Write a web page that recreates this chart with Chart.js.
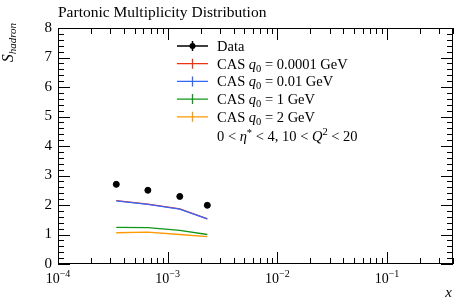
<!DOCTYPE html>
<html>
<head>
  <meta charset="utf-8">
  <title>Partonic Multiplicity Distribution</title>
  <script src="https://cdn.jsdelivr.net/npm/chart.js@4.4.1/dist/chart.umd.min.js"></script>
  <style>
    html, body { margin: 0; padding: 0; background: #fff; }
    #wrap { width: 468px; height: 304px; position: relative; }
  </style>
</head>
<body>
  <div id="wrap"><canvas id="myChart"></canvas></div>
  <script>
    // values
    const xBins = [3.4e-4, 6.6e-4, 1.29e-3, 2.3e-3];
    const dataVals = [2.70, 2.50, 2.29, 1.99];
    const cas00001 = [2.15, 2.03, 1.87, 1.53];
    const cas001 = [2.14, 2.02, 1.86, 1.53];
    const cas1 = [1.24, 1.23, 1.14, 1.00];
    const cas2 = [1.06, 1.08, 1.00, 0.93];
    const xDecades = [1e-4, 1e-3, 1e-2, 1e-1];
    const xExps = ['−4', '−3', '−2', '−1'];

    const FONT = '"Liberation Serif", "DejaVu Serif", serif';
    const RED = '#EE3311', BLUE = '#3366FF', GREEN = '#109618', ORANGE = '#FF9900';

    function pts(ys) { return xBins.map((x, i) => ({ x: x, y: ys[i] })); }

    // draw a run of text pieces [text, font, dy]
    function drawPieces(ctx, x, y, pieces) {
      pieces.forEach(p => {
        ctx.font = p[1];
        ctx.fillText(p[0], x, y + (p[2] || 0));
        x += ctx.measureText(p[0]).width;
      });
      return x;
    }
    function measurePieces(ctx, pieces) {
      let w = 0;
      pieces.forEach(p => { ctx.font = p[1]; w += ctx.measureText(p[0]).width; });
      return w;
    }

    const decor = {
      id: 'decor',
      afterDraw(chart) {
        const ctx = chart.ctx;
        const a = chart.chartArea;
        const xs = chart.scales.x, ys = chart.scales.y;
        ctx.save();
        ctx.strokeStyle = '#000';
        ctx.lineWidth = 1;
        // frame
        ctx.strokeRect(a.left + 0.5, a.top + 0.5, a.right - a.left - 1, a.bottom - a.top - 1);

        // x ticks (inside, top and bottom)
        ctx.beginPath();
        for (let e = -4; e <= -1; e++) {
          for (let m = 1; m <= 9; m++) {
            const v = m * Math.pow(10, e);
            if (v > xs.max) continue;
            const px = Math.round(xs.getPixelForValue(v)) + 0.5;
            const len = m === 1 ? 12 : 6;
            ctx.moveTo(px, a.bottom); ctx.lineTo(px, a.bottom - len);
            ctx.moveTo(px, a.top); ctx.lineTo(px, a.top + len);
          }
        }
        // y ticks (inside, left and right)
        for (let i = 0; i <= 40; i++) {
          const v = i * 0.2;
          const py = Math.round(ys.getPixelForValue(v)) + 0.5;
          const len = i % 5 === 0 ? 12 : 6;
          ctx.moveTo(a.left, py); ctx.lineTo(a.left + len, py);
          ctx.moveTo(a.right, py); ctx.lineTo(a.right - len, py);
        }
        ctx.stroke();

        // x tick labels 10^n
        ctx.fillStyle = '#000';
        ctx.textBaseline = 'alphabetic';
        ctx.textAlign = 'left';
        xDecades.forEach((v, i) => {
          const px = xs.getPixelForValue(v);
          const pieces = [['10', '14px ' + FONT, 0], [xExps[i], '10px ' + FONT, -6]];
          const w = measurePieces(ctx, pieces);
          drawPieces(ctx, px - w / 2, a.bottom + 19, pieces);
        });

        // title
        ctx.font = '15.5px ' + FONT;
        ctx.fillText('Partonic Multiplicity Distribution', a.left, 17);

        // x axis title
        ctx.font = 'italic 15px ' + FONT;
        ctx.textAlign = 'right';
        ctx.fillText('x', a.right - 1, 297);

        // y axis title, rotated
        ctx.save();
        ctx.translate(13, 23);
        ctx.rotate(-Math.PI / 2);
        ctx.textAlign = 'left';
        const yt = [['S', 'italic 16px ' + FONT, 0], ['hadron', 'italic 11px ' + FONT, 3]];
        drawPieces(ctx, -measurePieces(ctx, yt), 0, yt);
        ctx.restore();

        // legend
        const lx0 = 177, lx1 = 208, tx = 217;
        const F = '14.5px ' + FONT, FI = 'italic 14.5px ' + FONT, FS = '10.5px ' + FONT;
        const rows = [
          { c: '#000', dot: true, t: [['Data', F]] },
          { c: RED, t: [['CAS ', F], ['q', FI], ['0', FS, 3], [' = 0.0001 GeV', F]] },
          { c: BLUE, t: [['CAS ', F], ['q', FI], ['0', FS, 3], [' = 0.01 GeV', F]] },
          { c: GREEN, t: [['CAS ', F], ['q', FI], ['0', FS, 3], [' = 1 GeV', F]] },
          { c: ORANGE, t: [['CAS ', F], ['q', FI], ['0', FS, 3], [' = 2 GeV', F]] }
        ];
        ctx.textAlign = 'left';
        rows.forEach((r, i) => {
          const cy = 46 + i * 17.7;
          ctx.strokeStyle = r.c;
          ctx.lineWidth = r.dot ? 1.5 : 1.3;
          ctx.beginPath();
          ctx.moveTo(lx0, cy); ctx.lineTo(lx1, cy);
          const mx = (lx0 + lx1) / 2;
          ctx.moveTo(mx, cy - 5); ctx.lineTo(mx, cy + 5);
          ctx.stroke();
          if (r.dot) {
            ctx.fillStyle = '#000';
            ctx.beginPath(); ctx.arc(mx, cy, 3, 0, Math.PI * 2); ctx.fill();
          }
          ctx.fillStyle = '#000';
          drawPieces(ctx, tx, cy + 5, r.t);
        });
        const cut = [
          ['0 < ', F], ['η', FI], ['*', FS, -5],
          [' < 4, 10 < ', F], ['Q', FI], ['2', FS, -6],
          [' < 20', F]
        ];
        drawPieces(ctx, tx, 141, cut);
        ctx.restore();
      }
    };

    const lineDs = (label, ys, color, order) => ({
      label: label, data: pts(ys), borderColor: color, backgroundColor: color,
      borderWidth: 1.3, pointRadius: 0, fill: false, tension: 0, order: order
    });

    new Chart(document.getElementById('myChart'), {
      type: 'line',
      data: {
        datasets: [
          {
            label: 'Data', data: pts(dataVals), showLine: false, order: 0,
            pointRadius: 3, pointBackgroundColor: '#000', pointBorderColor: '#000', borderColor: '#000'
          },
          lineDs('CAS q0 = 0.0001 GeV', cas00001, RED, 4),
          lineDs('CAS q0 = 0.01 GeV', cas001, BLUE, 3),
          lineDs('CAS q0 = 1 GeV', cas1, GREEN, 2),
          lineDs('CAS q0 = 2 GeV', cas2, ORANGE, 1)
        ]
      },
      options: {
        responsive: true,
        maintainAspectRatio: false,
        animation: false,
        layout: { padding: { left: 0, right: 15, top: 28, bottom: 0 } },
        plugins: { legend: { display: false }, title: { display: false }, tooltip: { enabled: false } },
        scales: {
          x: {
            type: 'logarithmic', min: 1e-4, max: 0.4,
            grid: { display: false, drawTicks: false }, border: { display: false },
            ticks: { display: false },
            afterFit(s) { s.height = 40; }
          },
          y: {
            min: 0, max: 8,
            grid: { display: false, drawTicks: false }, border: { display: false },
            ticks: { stepSize: 1, color: '#000', padding: 6, font: { family: FONT, size: 15 } },
            afterFit(s) { s.width = 58; }
          }
        }
      },
      plugins: [decor]
    });
  </script>
</body>
</html>
